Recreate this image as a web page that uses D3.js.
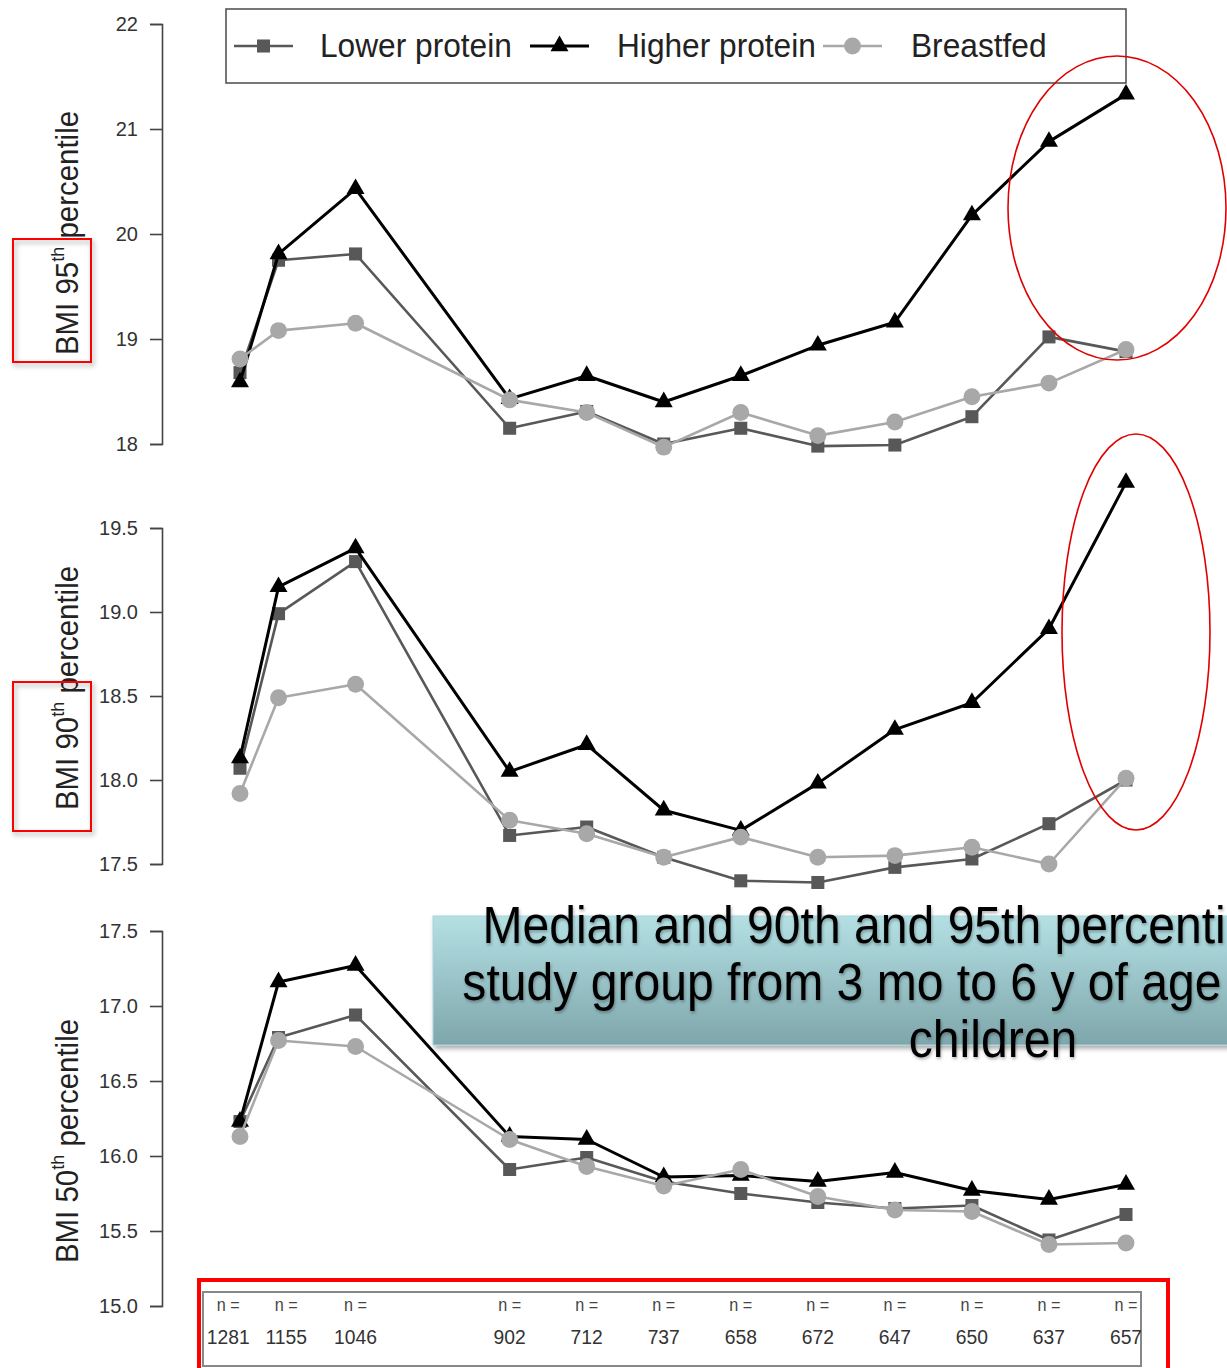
<!DOCTYPE html>
<html>
<head>
<meta charset="utf-8">
<script src="https://cdn.jsdelivr.net/npm/d3@7"></script>
<style>
  body { margin: 0; background: #fff; }
  svg { display: block; font-family: "Liberation Sans", Arial, sans-serif; }
</style>
</head>
<body>
<svg id="chart" width="1227" height="1368"></svg>
<script>
// ages in years at each visit
var ages = [0.25, 0.5, 1, 2, 2.5, 3, 3.5, 4, 4.5, 5, 5.5, 6];
var nCounts = [1281, 1155, 1046, 902, 712, 737, 658, 672, 647, 650, 637, 657];
var groups = ["Lower protein", "Higher protein", "Breastfed"];

// BMI 95th percentile
var p95Lower  = [18.68, 19.75, 19.81, 18.15, 18.31, 18.00, 18.15, 17.98, 17.99, 18.26, 19.02, 18.88];
var p95Higher = [18.59, 19.81, 20.43, 18.43, 18.65, 18.40, 18.65, 18.94, 19.16, 20.18, 20.88, 21.33];
var p95Breast = [18.81, 19.08, 19.15, 18.42, 18.30, 17.97, 18.30, 18.08, 18.21, 18.45, 18.58, 18.90];
// BMI 90th percentile
var p90Lower  = [18.07, 18.99, 19.30, 17.67, 17.72, 17.54, 17.40, 17.39, 17.48, 17.53, 17.74, 18.00];
var p90Higher = [18.13, 19.15, 19.38, 18.05, 18.21, 17.82, 17.70, 17.98, 18.30, 18.46, 18.90, 19.77];
var p90Breast = [17.92, 18.49, 18.57, 17.76, 17.68, 17.54, 17.66, 17.54, 17.55, 17.60, 17.50, 18.01];
// BMI 50th percentile
var p50Lower  = [16.23, 16.79, 16.94, 15.91, 15.99, 15.83, 15.75, 15.69, 15.65, 15.67, 15.44, 15.61];
var p50Higher = [16.23, 17.16, 17.27, 16.13, 16.11, 15.86, 15.87, 15.83, 15.89, 15.77, 15.71, 15.81];
var p50Breast = [16.13, 16.77, 16.73, 16.11, 15.93, 15.80, 15.91, 15.73, 15.64, 15.63, 15.41, 15.42];

var p95Ticks = [18, 19, 20, 21, 22];
var p90Ticks = [17.5, 18.0, 18.5, 19.0, 19.5];
var p50Ticks = [15.0, 15.5, 16.0, 16.5, 17.0, 17.5];

var caption = ["Median and 90th and 95th percentiles of BMI by",
               "study group from 3 mo to 6 y of age among all the",
               "children"];

var svg = d3.select("#chart");
var defs = svg.append("defs");

var shadow = defs.append("filter").attr("id", "shadow")
  .attr("x", "-10%").attr("y", "-20%").attr("width", "130%").attr("height", "150%");
shadow.append("feDropShadow").attr("dx", 2).attr("dy", 3).attr("stdDeviation", 2.5)
  .attr("flood-color", "#000").attr("flood-opacity", 0.35);

var textShadow = defs.append("filter").attr("id", "textShadow")
  .attr("x", "-5%").attr("y", "-20%").attr("width", "110%").attr("height", "150%");
textShadow.append("feDropShadow").attr("dx", 1).attr("dy", 2).attr("stdDeviation", 1.5)
  .attr("flood-color", "#000").attr("flood-opacity", 0.3);

var grad = defs.append("linearGradient").attr("id", "boxGrad")
  .attr("x1", 0).attr("y1", 0).attr("x2", 0).attr("y2", 1);
grad.append("stop").attr("offset", "0%").attr("stop-color", "#b4e0e4");
grad.append("stop").attr("offset", "100%").attr("stop-color", "#7ea6ab");

var x = d3.scaleLinear().domain([0.25, 6]).range([240, 1126]);

var styles = [
  { color: "#585858", width: 2.6, symbol: d3.symbolSquare, size: 170 },
  { color: "#000000", width: 3, symbol: d3.symbolTriangle, size: 140 },
  { color: "#a8a8a8", width: 2.6, symbol: d3.symbolCircle, size: 225 }
];

var panels = [
  { pct: "95", ticks: p95Ticks, fmt: d3.format("d"), range: [444, 24], labelY: 233,
    series: [p95Lower, p95Higher, p95Breast] },
  { pct: "90", ticks: p90Ticks, fmt: d3.format(".1f"), range: [864, 528], labelY: 688,
    series: [p90Lower, p90Higher, p90Breast] },
  { pct: "50", ticks: p50Ticks, fmt: d3.format(".1f"), range: [1306, 931], labelY: 1141,
    series: [p50Lower, p50Higher, p50Breast] }
];

panels.forEach(function(p) {
  var y = d3.scaleLinear().domain(d3.extent(p.ticks)).range(p.range);
  var g = svg.append("g");

  var axis = g.append("g")
    .attr("transform", "translate(162,0)")
    .call(d3.axisLeft(y).tickValues(p.ticks).tickFormat(p.fmt).tickSize(12).tickPadding(12));
  axis.select(".domain").attr("stroke", "#444").attr("stroke-width", 1.6);
  axis.selectAll(".tick line").attr("stroke", "#444").attr("stroke-width", 1.6);
  axis.selectAll(".tick text").attr("fill", "#333").style("font-size", "20px")
    .style("font-family", "Liberation Sans, Arial, sans-serif");

  // y label
  var lab = g.append("text")
    .attr("transform", "translate(78," + p.labelY + ") rotate(-90) scale(0.95,1)")
    .attr("text-anchor", "middle")
    .attr("fill", "#222")
    .style("font-size", "31px");
  lab.append("tspan").text("BMI " + p.pct);
  lab.append("tspan").attr("dy", -14).style("font-size", "19px").text("th");
  lab.append("tspan").attr("dy", 14).text(" percentile");

  var line = d3.line().x(function(d, i) { return x(ages[i]); }).y(function(d) { return y(d); });

  p.series.forEach(function(vals, k) {
    var s = styles[k];
    g.append("path").datum(vals)
      .attr("d", line)
      .attr("fill", "none")
      .attr("stroke", s.color)
      .attr("stroke-width", s.width)
      .attr("stroke-linejoin", "round");
    g.selectAll(".m" + k).data(vals).enter().append("path")
      .attr("class", "m" + k)
      .attr("transform", function(d, i) { return "translate(" + x(ages[i]) + "," + y(d) + ")"; })
      .attr("d", d3.symbol().type(s.symbol).size(s.size))
      .attr("fill", s.color);
  });
});

// legend
var legend = svg.append("g");
legend.append("rect").attr("x", 226).attr("y", 9).attr("width", 900).attr("height", 74)
  .attr("fill", "#fff").attr("stroke", "#555").attr("stroke-width", 1.6);
var legX = [234, 530, 823];
var legTextX = [320, 617, 911];
groups.forEach(function(name, k) {
  var s = styles[k];
  legend.append("line").attr("x1", legX[k]).attr("x2", legX[k] + 59)
    .attr("y1", 46).attr("y2", 46)
    .attr("stroke", s.color).attr("stroke-width", s.width);
  legend.append("path")
    .attr("transform", "translate(" + (legX[k] + 29.5) + ",46)")
    .attr("d", d3.symbol().type(s.symbol).size(s.size))
    .attr("fill", s.color);
  legend.append("text")
    .attr("transform", "translate(" + legTextX[k] + ",57) scale(0.96,1)")
    .attr("fill", "#222")
    .style("font-size", "33px")
    .text(name);
});

// n table
var nBox = svg.append("g");
defs.append("clipPath").attr("id", "nClip").append("rect")
  .attr("x", 203).attr("y", 1291).attr("width", 938).attr("height", 80);
nBox.append("rect").attr("x", 203).attr("y", 1292).attr("width", 938).attr("height", 74)
  .attr("fill", "#fff").attr("stroke", "#888").attr("stroke-width", 2);
var nX = ages.map(function(a) { return x(a); });
// spread out crowded first labels
for (var i = 1; i < nX.length; i++) {
  if (nX[i] - nX[i - 1] < 58) {
    var mid = (nX[i] + nX[i - 1]) / 2;
    nX[i - 1] = mid - 31;
    nX[i] = mid + 27;
  }
}
var nText = nBox.append("g").attr("clip-path", "url(#nClip)");
nCounts.forEach(function(n, i) {
  nText.append("text")
    .attr("transform", "translate(" + nX[i] + ",1311) scale(0.9,1)")
    .attr("text-anchor", "middle").attr("fill", "#444")
    .style("font-size", "18px").text("n =");
  nText.append("text")
    .attr("transform", "translate(" + nX[i] + ",1344) scale(0.92,1)")
    .attr("text-anchor", "middle").attr("fill", "#333")
    .style("font-size", "21px").text(n);
});

// red highlights
svg.append("rect").attr("x", 199).attr("y", 1280).attr("width", 969).attr("height", 100)
  .attr("fill", "none").attr("stroke", "#ff0000").attr("stroke-width", 4);
[[239, 123], [682, 149]].forEach(function(r) {
  svg.append("rect").attr("x", 13).attr("y", r[0]).attr("width", 78).attr("height", r[1])
    .attr("fill", "none").attr("stroke", "#ff0000").attr("stroke-width", 2)
    .attr("filter", "url(#shadow)");
});
svg.append("ellipse").attr("cx", 1117).attr("cy", 208).attr("rx", 109).attr("ry", 152)
  .attr("fill", "none").attr("stroke", "#e00000").attr("stroke-width", 1.6);
svg.append("ellipse").attr("cx", 1136).attr("cy", 632).attr("rx", 74).attr("ry", 198)
  .attr("fill", "none").attr("stroke", "#e00000").attr("stroke-width", 1.6);

// caption box
var cap = svg.append("g");
cap.append("rect").attr("x", 433).attr("y", 916).attr("width", 820).attr("height", 129)
  .attr("fill", "url(#boxGrad)").attr("stroke", "#a9d6db").attr("stroke-width", 1)
  .attr("filter", "url(#shadow)");
caption.forEach(function(t, i) {
  cap.append("text")
    .attr("transform", "translate(993," + (943 + i * 57) + ") scale(0.925,1)")
    .attr("text-anchor", "middle")
    .attr("fill", "#000")
    .attr("filter", "url(#textShadow)")
    .style("font-size", "52px")
    .text(t);
});
</script>
</body>
</html>
